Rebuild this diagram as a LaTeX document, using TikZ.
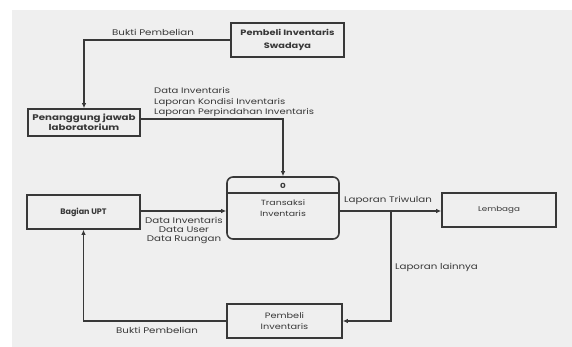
\documentclass[tikz,border=0pt]{standalone}
\usepackage{fontspec}
\setmainfont{Poppins}[FakeStretch=1.25]
\newfontfamily\plainfont{Poppins}
\usetikzlibrary{arrows.meta}
\definecolor{panel}{HTML}{EFEFEF}
\definecolor{ink}{HTML}{383838}
\begin{document}
\begin{tikzpicture}[x=1pt,y=-1pt,
  entity/.style={draw=ink,line width=1.6pt,rectangle,inner sep=1pt,align=center,font=\fontsize{7.8}{10.5}\selectfont,text=ink},
  flow/.style={draw=ink,line width=1.1pt,-{Latex[length=5pt,width=4.5pt]}},
  lbl/.style={font=\fontsize{8.2}{10}\selectfont,text=ink,inner sep=0pt,align=left}]
\useasboundingbox (0,0) rectangle (572,347);
\fill[panel] (12,10) rectangle (572,347);
% entities
\node[entity,minimum width=113pt,minimum height=34pt,font=\bfseries\fontsize{7.8}{13}\selectfont] (swa) at (287.5,40) {Pembeli Inventaris\\Swadaya};
\node[entity,minimum width=112pt,minimum height=27pt,font=\bfseries\fontsize{8.2}{10}\selectfont] (pj) at (84,122.5) {Penanggung jawab\\laboratorium};
\node[entity,minimum width=113pt,minimum height=34pt,font=\plainfont\bfseries\fontsize{8}{9}\selectfont] (upt) at (83.5,212) {Bagian UPT};
\node[entity,minimum width=114pt,minimum height=34pt,font=\fontsize{7}{8}\selectfont] (lem) at (499,210) {Lembaga};
\node[entity,minimum width=115pt,minimum height=34pt,font=\fontsize{7.8}{11}\selectfont] (pi) at (284.5,321) {Pembeli\\Inventaris};
% process
\node[entity,rounded corners=6pt,minimum width=112pt,minimum height=62pt] (tr) at (283,208) {};
\draw[ink,line width=1.2pt] (227,193) coordinate (dl) -- (339,193) coordinate (dr);
\node[font=\bfseries\fontsize{7}{8}\selectfont,text=ink,inner sep=0pt] (trid) at (283,186) {0};
\node[font=\fontsize{7.5}{11}\selectfont,text=ink,align=center,inner sep=0pt] (trtxt) at (283,208.5) {Transaksi\\Inventaris};
% connectors
\draw[flow] (swa.west) -| (pj.north);
\draw[flow] ([yshift=3.5pt]pj.east) -| (tr.north);
\draw[flow] (upt.east |- 0,211) -- (tr.west |- 0,211);
\coordinate (br) at (391,211);
\draw[flow] (tr.east |- br) -- (lem.west |- br);
\draw[flow] (br) |- (pi.east);
\draw[flow] (pi.west) -| (upt.south);
% labels
\node[lbl,anchor=west] (l1) at (112,32) {Bukti Pembelian};
\node[lbl,anchor=west,font=\fontsize{8}{10.5}\selectfont] (l2) at (154,102) {Data Inventaris\\Laporan Kondisi Inventaris\\Laporan Perpindahan Inventaris};
\node[lbl,align=center,font=\fontsize{8.2}{9}\selectfont] (l3) at (184,230) {Data Inventaris\\Data User\\Data Ruangan};
\node[lbl,anchor=west] (l4) at (344,200) {Laporan Triwulan};
\node[lbl,anchor=west] (l5) at (395,267) {Laporan lainnya};
\node[lbl,anchor=west] (l6) at (116,330) {Bukti Pembelian};
\end{tikzpicture}
\end{document}
